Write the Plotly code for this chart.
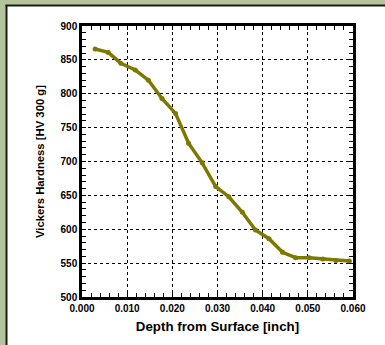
import plotly.graph_objects as go

depth = [0.0029, 0.0058, 0.0086, 0.0118, 0.0147, 0.0177, 0.0207, 0.0236, 0.0266, 0.0296,
         0.0325, 0.0355, 0.0384, 0.0414, 0.0444, 0.0473, 0.0503, 0.0533, 0.0562, 0.0592]
hardness = [866, 861, 845, 835, 820, 793, 771, 727, 698, 663,
            648, 625, 599, 586, 566, 558, 558, 556, 554, 553]

x_ticks = [0.0, 0.01, 0.02, 0.03, 0.04, 0.05, 0.06]
x_labels = ["0.000", "0.010", "0.020", "0.030", "0.040", "0.050", "0.060"]
y_ticks = [500, 550, 600, 650, 700, 750, 800, 850, 900]

olive = "#7d7800"
green = "#b4c49a"
font = "Liberation Sans, Arial, sans-serif"

fig = go.Figure()
fig.add_trace(go.Scatter(
    x=depth, y=hardness, mode="lines+markers",
    line=dict(color=olive, width=3.5),
    marker=dict(color=olive, size=5),
    showlegend=False, hoverinfo="skip",
))

axis_common = dict(
    showline=True, linecolor="black", linewidth=2.5, mirror="ticks",
    ticks="inside", ticklen=4, tickwidth=1, tickcolor="black",
    showgrid=True, gridcolor="black", gridwidth=1, griddash="dot",
    zeroline=False,
    tickfont=dict(family=font, size=10, color="black", weight="bold"),
)

fig.update_xaxes(
    range=[0, 0.06], tickvals=x_ticks, ticktext=x_labels,
    minor=dict(dtick=0.002, tick0=0, ticks="inside", ticklen=4, tickcolor="black", showgrid=False),
    title=dict(text="Depth from Surface [inch]", standoff=9,
               font=dict(family=font, size=13.3, color="black", weight="bold")),
    **axis_common,
)
fig.update_yaxes(
    range=[500, 900], tickvals=y_ticks,
    minor=dict(dtick=10, tick0=500, ticks="inside", ticklen=4, tickcolor="black", showgrid=False),
    title=dict(text="Vickers Hardness [HV 300 g]", standoff=14,
               font=dict(family=font, size=11.3, color="black", weight="bold")),
    **axis_common,
)


def px_x(p):
    return (p - 82) / 271


def px_y(p):
    return (297 - p) / 271


# green frame strips on the left and top, with a dark border line
fig.add_shape(type="rect", xref="paper", yref="paper",
              x0=px_x(-5), x1=px_x(6), y0=px_y(350), y1=px_y(-5),
              fillcolor=green, line=dict(width=0), layer="below")
fig.add_shape(type="rect", xref="paper", yref="paper",
              x0=px_x(-5), x1=px_x(390), y0=px_y(5), y1=px_y(-5),
              fillcolor=green, line=dict(width=0), layer="below")
fig.add_shape(type="line", xref="paper", yref="paper",
              x0=px_x(6.5), x1=px_x(6.5), y0=px_y(5), y1=px_y(350),
              line=dict(color="#1a1a1a", width=2), layer="below")
fig.add_shape(type="line", xref="paper", yref="paper",
              x0=px_x(5.5), x1=px_x(390), y0=px_y(5.5), y1=px_y(5.5),
              line=dict(color="#1a1a1a", width=2), layer="below")

fig.update_layout(
    width=385, height=345,
    margin=dict(l=82, r=32, t=26, b=48),
    paper_bgcolor="white",
    plot_bgcolor="white",
)

fig.write_html("out.html", config={"displayModeBar": False},
               post_script="document.body.style.margin='0';document.body.style.overflow='hidden';")
